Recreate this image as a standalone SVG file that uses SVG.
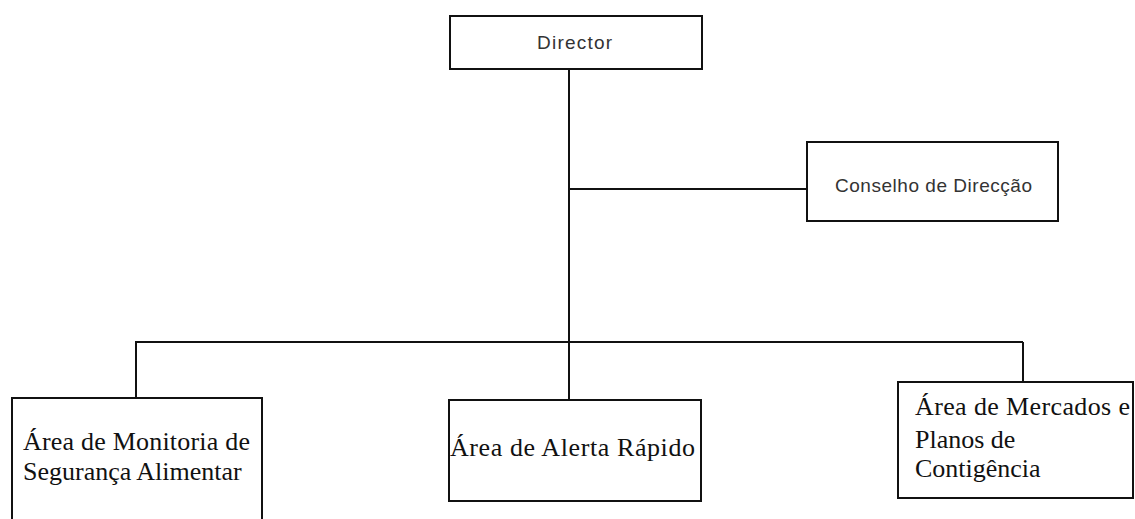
<svg xmlns="http://www.w3.org/2000/svg" width="1135" height="519" viewBox="0 0 1135 519">
<style>
.box{fill:#fff;stroke:#111;stroke-width:2}
.con{fill:none;stroke:#111;stroke-width:2}
.sans{font-family:"Liberation Sans",Arial,sans-serif;font-size:19px;fill:#333}
.serif{font-family:"Liberation Serif","Times New Roman",serif;font-size:26px;fill:#111}
</style>
<rect width="1135" height="519" fill="#fff"/>
<g id="connectors">
<line class="con" x1="569" y1="69" x2="569" y2="399"/>
<line class="con" x1="569" y1="189" x2="807" y2="189"/>
<line class="con" x1="135" y1="342" x2="1023" y2="342"/>
<line class="con" x1="136" y1="342" x2="136" y2="399"/>
<line class="con" x1="1023" y1="342" x2="1023" y2="382"/>
</g>
<g id="director">
<rect class="box" x="450" y="16" width="252" height="53"/>
<text class="sans" x="574.5" y="49" text-anchor="middle" font-size="20" textLength="75">Director</text>
</g>
<g id="conselho">
<rect class="box" x="807" y="142" width="251" height="79"/>
<text class="sans" x="835" y="192" textLength="197">Conselho de Direcção</text>
</g>
<g id="monitoria">
<rect class="box" x="12" y="398" width="250" height="130"/>
<text class="serif" x="23" y="450" textLength="227">Área de Monitoria de</text>
<text class="serif" x="23" y="480">Segurança Alimentar</text>
</g>
<g id="alerta">
<rect class="box" x="449" y="400" width="252" height="101"/>
<text class="serif" x="450" y="456" textLength="245">Área de Alerta Rápido</text>
</g>
<g id="mercados">
<rect class="box" x="898" y="382" width="235" height="116"/>
<text class="serif" x="915" y="415" textLength="215">Área de Mercados e</text>
<text class="serif" x="915" y="448">Planos de</text>
<text class="serif" x="915" y="477">Contigência</text>
</g>
</svg>
